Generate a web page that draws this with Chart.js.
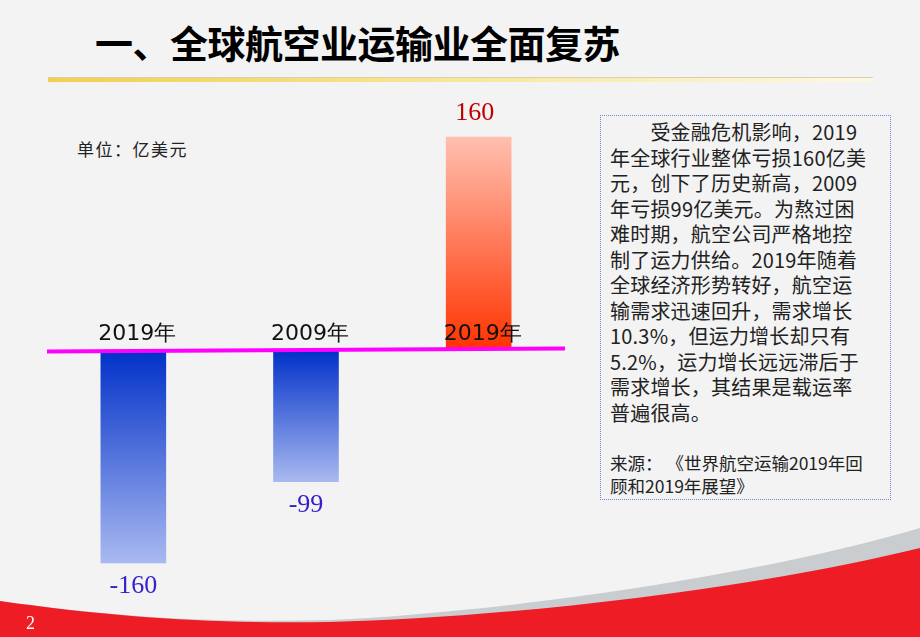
<!DOCTYPE html>
<html>
<head>
<meta charset="utf-8">
<script src="https://cdn.jsdelivr.net/npm/chart.js@4.4.0/dist/chart.umd.min.js"></script>
<style>
  html, body { margin: 0; padding: 0; }
  body { width: 920px; height: 637px; background: #f3f3f3; position: relative; overflow: hidden; font-family: "Noto Sans CJK SC", "Noto Sans", sans-serif; }
  #title { position: absolute; left: 95px; top: 14px; font-size: 38px; font-weight: bold; color: #000; letter-spacing: -0.5px; white-space: nowrap; }
  #rule { position: absolute; left: 48px; top: 77px; width: 825px; height: 4px; background: linear-gradient(90deg, #f2cf4f, #f7e79a 50%, #fdf8e4); border-top: 1px solid #d8d0b0; }
  #unit { position: absolute; left: 77px; top: 136px; font-size: 17px; letter-spacing: 1.5px; color: #222; }
  #wrap { position: absolute; left: 47px; top: 90px; width: 518px; height: 520px; }
  #note { position: absolute; left: 600px; top: 115px; width: 291px; height: 385px; border: 1px dotted #6f86d6; box-sizing: border-box; padding: 3px 0 0 9px; color: #222; }
  #note .body { font-size: 20px; line-height: 25.5px; white-space: nowrap; letter-spacing: 0.2px; }
  #note .src { font-size: 17.5px; line-height: 23px; margin-top: 26px; white-space: nowrap; }
  #swoosh { position: absolute; left: 0; top: 0; }
  #page { position: absolute; left: 26px; top: 613px; color: #fff; font-family: "Liberation Serif", serif; font-size: 18px; }
</style>
</head>
<body>
<div id="title">一、全球航空业运输业全面复苏</div>
<div id="rule"></div>
<div id="unit">单位：亿美元</div>
<div id="wrap"><canvas id="chart"></canvas></div>
<div id="note">
  <div class="body">&emsp;&emsp;受金融危机影响，2019<br>年全球行业整体亏损160亿美<br>元，创下了历史新高，2009<br>年亏损99亿美元。为熬过困<br>难时期，航空公司严格地控<br>制了运力供给。2019年随着<br>全球经济形势转好，航空运<br>输需求迅速回升，需求增长<br>10.3%，但运力增长却只有<br>5.2%，运力增长远远滞后于<br>需求增长，其结果是载运率<br>普遍很高。</div>
  <div class="src">来源：&nbsp;《世界航空运输2019年回<br>顾和2019年展望》</div>
</div>
<svg id="swoosh" width="920" height="637">
  <path d="M0,601 C120,618 220,623 330,620 C500,612 750,578 920,528 L920,637 L0,637 Z" fill="#c9cdd0"/>
  <path d="M0,601 C120,618 220,624 330,622 C500,618 750,590 920,548 L920,637 L0,637 Z" fill="#ee1c25"/>
</svg>
<div id="page">2</div>
<script>
const categories = ["2019年", "2009年", "2019年"];
const values = [-160, -99, 160];
const valueLabels = ["-160", "-99", "160"];

function barFill(context) {
  const chart = context.chart;
  if (!chart.chartArea) return "#3355cc";
  const y = chart.scales.y;
  const v = values[context.dataIndex];
  const y0 = y.getPixelForValue(0);
  const y1 = y.getPixelForValue(v);
  const g = chart.ctx.createLinearGradient(0, y0, 0, y1);
  if (v < 0) {
    g.addColorStop(0, "#0030c8");
    g.addColorStop(1, "#a9b9f0");
  } else {
    g.addColorStop(0, "#ff3300");
    g.addColorStop(1, "#ffc0b0");
  }
  return g;
}

const overlay = {
  id: "overlay",
  afterDatasetsDraw(chart) {
    const { ctx, chartArea, scales } = chart;
    const y0 = scales.y.getPixelForValue(0);
    ctx.save();
    // zero line
    ctx.strokeStyle = "#ff00ff";
    ctx.lineWidth = 4;
    ctx.beginPath();
    ctx.moveTo(chartArea.left, y0 + 1.5);
    ctx.lineTo(chartArea.right, y0 - 1.5);
    ctx.stroke();
    // category labels above zero line
    ctx.fillStyle = "#111";
    ctx.font = "22px 'DejaVu Sans', sans-serif";
    ctx.textAlign = "center";
    ctx.textBaseline = "alphabetic";
    const meta = chart.getDatasetMeta(0);
    meta.data.forEach((bar, i) => {
      ctx.fillText(categories[i], bar.x + 4, y0 - 10);
    });
    // value labels
    ctx.font = "26px 'Liberation Serif', serif";
    meta.data.forEach((bar, i) => {
      if (values[i] >= 0) {
        ctx.fillStyle = "#c00000";
        ctx.textBaseline = "bottom";
        ctx.fillText(valueLabels[i], bar.x - 4, bar.y - 10);
      } else {
        ctx.fillStyle = "#3322cc";
        ctx.textBaseline = "top";
        ctx.fillText(valueLabels[i], bar.x, bar.y + 10);
      }
    });
    ctx.restore();
  }
};

new Chart(document.querySelector("#chart"), {
  type: "bar",
  data: {
    labels: categories,
    datasets: [{ data: values, backgroundColor: barFill, borderWidth: 0, barPercentage: 0.38, categoryPercentage: 1 }]
  },
  options: {
    responsive: true,
    maintainAspectRatio: false,
    animation: false,
    layout: { padding: 0 },
    plugins: { legend: { display: false }, tooltip: { enabled: false } },
    scales: {
      x: { display: false },
      y: { display: false, min: -195, max: 195 }
    }
  },
  plugins: [overlay]
});
</script>
</body>
</html>
